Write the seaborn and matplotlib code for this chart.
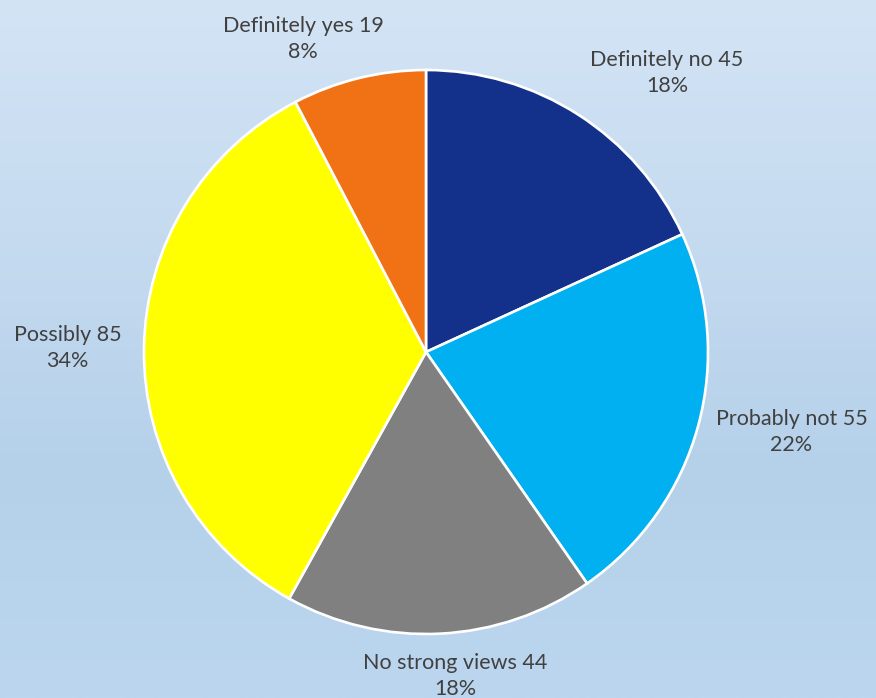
import numpy as np
import seaborn as sns
import matplotlib.pyplot as plt
from matplotlib.colors import LinearSegmentedColormap

categories = ["Definitely no", "Probably not", "No strong views", "Possibly", "Definitely yes"]
counts = [45, 55, 44, 85, 19]
colors = ["#13318a", "#00b0f0", "#808080", "#ffff00", "#f17215"]

sns.set_theme(style="white")
plt.rcParams['font.family'] = ['Lato', 'DejaVu Sans']

fig = plt.figure(figsize=(8.76, 6.98), dpi=100)
ax = fig.add_axes([0, 0, 1, 1])

# background gradient
bg = LinearSegmentedColormap.from_list("bg", ["#bbd6ee", "#b5d1ea", "#c6dbf0", "#d3e4f5"])
grad = np.linspace(0, 1, 256).reshape(-1, 1)
xmin, xmax = -426 / 282, (876 - 426) / 282
ymin, ymax = -346 / 282, 352 / 282
ax.imshow(grad, extent=[xmin, xmax, ymin, ymax], origin="lower", cmap=bg,
          aspect="auto", zorder=0)

wedges, _ = ax.pie(counts, colors=sns.color_palette(colors), startangle=90,
                   counterclock=False, radius=1.0,
                   wedgeprops=dict(edgecolor="white", linewidth=1.9, zorder=2))

total = sum(counts)
ha_list = ["left", "left", "center", "right", "center"]
va_list = ["bottom", "center", "top", "center", "bottom"]
dist = [1.08, 1.08, 1.07, 1.08, 1.06]
shift = [0, -3, 10, 0, -37]
for w, name, c, ha, va, d, s in zip(wedges, categories, counts, ha_list, va_list, dist, shift):
    ang = np.deg2rad((w.theta1 + w.theta2) / 2)
    x, y = d * np.cos(ang), d * np.sin(ang)
    ax.annotate(f"{name} {c}\n{c / total:.0%}", xy=(x, y), xytext=(s, 0),
                textcoords="offset points", ha=ha, va=va, multialignment="center",
                fontsize=15.5, color="#404040", linespacing=1.35, zorder=3)

ax.set_xlim(xmin, xmax)
ax.set_ylim(ymin, ymax)
ax.set_aspect("equal")
ax.axis("off")
fig.savefig("out.png", dpi=100)
